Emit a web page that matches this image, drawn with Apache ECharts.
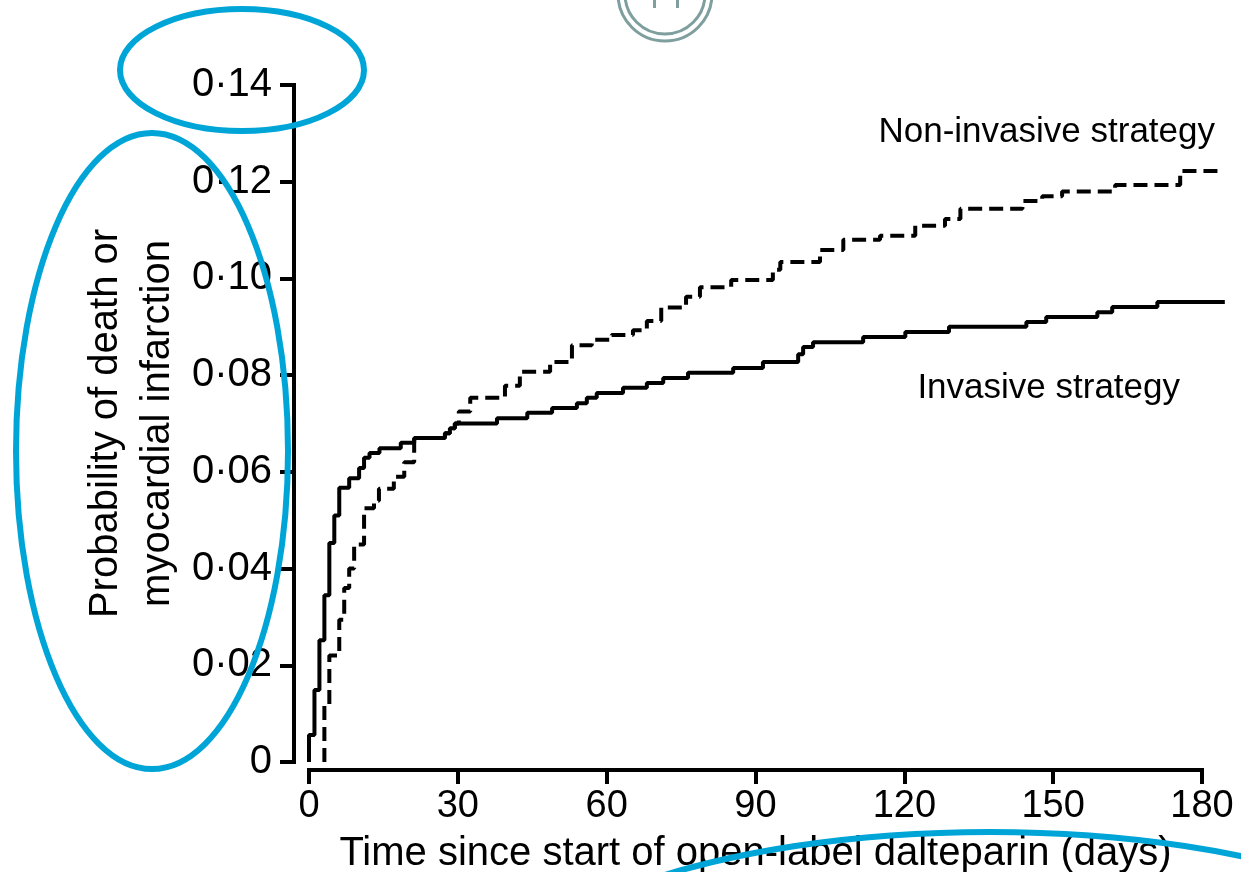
<!DOCTYPE html>
<html>
<head>
<meta charset="utf-8">
<title>Death or myocardial infarction</title>
<script src="https://cdn.jsdelivr.net/npm/echarts@6/dist/echarts.min.js"></script>
<style>
  html, body { margin: 0; padding: 0; background: #fff; }
  #chart { width: 1241px; height: 872px; }
</style>
</head>
<body>
<div id="chart"></div>
<script>
  // axis ticks
  var xTickLabels = ['0', '30', '60', '90', '120', '150', '180']
  var yTickLabels = ['0', '0·02', '0·04', '0·06', '0·08', '0·10', '0·12', '0·14']

  // invasive strategy (solid), step points: day of event, cumulative probability
  var invasiveDays = [0, 0, 1.1, 2.1, 3.1, 4.1, 5.1, 6.1, 8.1, 10.1, 11.1, 12.2, 14.2, 18.5, 21.2, 27.4, 28.4, 29.4,
    37.9, 44.0, 49.0, 54.0, 56.0, 58.0, 63.3, 68.1, 71.4, 76.4, 85.5, 91.5, 98.6, 99.6, 101.6, 111.7, 120.2, 129.0,
    144.6, 148.6, 158.9, 161.9, 171.0, 184.6]
  var invasiveProb = [0, 0.0056, 0.0149, 0.0252, 0.0345, 0.0453, 0.051, 0.0567, 0.0587, 0.0608, 0.0629, 0.0639, 0.0649,
    0.066, 0.067, 0.068, 0.069, 0.070, 0.0711, 0.0722, 0.0732, 0.0742, 0.0753, 0.0763, 0.0774, 0.0784, 0.0794, 0.0805,
    0.0815, 0.0827, 0.0843, 0.0858, 0.0868, 0.0879, 0.0889, 0.090, 0.091, 0.092, 0.093, 0.0941, 0.0951, 0.0951]

  // non-invasive strategy (dashed)
  var nonInvasiveDays = [3.1, 3.1, 4.1, 6.1, 7.1, 8.1, 9.1, 11.1, 13.1, 14.1, 17.1, 19.2, 21.2, 27.4, 28.4, 29.4, 30.2,
    32.5, 39.5, 42.5, 48.6, 53.0, 57.0, 61.0, 65.3, 68.1, 71.0, 76.0, 78.8, 85.1, 93.5, 95.0, 103.0, 107.7, 115.1,
    122.2, 128.2, 131.3, 143.8, 147.8, 151.8, 162.5, 175.6, 183.7]
  var nonInvasiveProb = [0, 0.012, 0.022, 0.0294, 0.036, 0.040, 0.045, 0.0525, 0.054, 0.0565, 0.059, 0.062, 0.067,
    0.068, 0.069, 0.070, 0.0725, 0.0753, 0.0778, 0.0807, 0.0827, 0.0862, 0.0873, 0.0883, 0.0893, 0.0912, 0.094, 0.0962,
    0.0982, 0.0997, 0.1018, 0.1034, 0.1059, 0.108, 0.1088, 0.1109, 0.1123, 0.1144, 0.116, 0.117, 0.118, 0.1193, 0.1222,
    0.1222]

  function pairs (xs, ys) {
    return xs.map(function (x, i) { return [x, ys[i]] })
  }

  var font = 'Liberation Sans'
  var blue = '#00a5d8'

  // the curves run a little past the 180-day end of the drawn axis:
  // a second, hidden grid with the same scale carries them
  var gridLeft = 309
  var axisRight = 39
  var curveRight = 16
  var plotW = 1241 - gridLeft - axisRight
  var curveMax = 180 * (1241 - gridLeft - curveRight) / plotW

  var option = {
    backgroundColor: '#fff',
    animation: false,
    grid: [
      { left: gridLeft, right: axisRight, top: 85, bottom: 110, containLabel: false, outerBoundsMode: 'none' },
      { left: gridLeft, right: curveRight, top: 85, bottom: 110, containLabel: false, outerBoundsMode: 'none' }
    ],
    xAxis: [{
      type: 'value',
      gridIndex: 0,
      min: 0,
      max: 180,
      interval: 30,
      offset: 8,
      name: 'Time since start of open-label dalteparin (days)',
      nameLocation: 'middle',
      nameGap: 64,
      nameMoveOverlap: false,
      nameTextStyle: { color: '#000', fontFamily: font, fontSize: 40 },
      axisLine: { show: true, onZero: false, lineStyle: { color: '#000', width: 4, cap: 'square' } },
      axisTick: { show: true, length: 14, lineStyle: { color: '#000', width: 4 } },
      axisLabel: {
        color: '#000', fontFamily: font, fontSize: 38, margin: 18,
        formatter: function (v) { return xTickLabels[Math.round(v / 30)] }
      },
      splitLine: { show: false }
    }, {
      type: 'value',
      gridIndex: 1,
      min: 0,
      max: curveMax,
      show: false
    }],
    yAxis: [{
      type: 'value',
      gridIndex: 0,
      min: 0,
      max: 0.14,
      interval: 0.02,
      offset: 15,
      name: 'Probability of death or\nmyocardial infarction',
      nameLocation: 'middle',
      nameRotate: 90,
      nameGap: 110,
      nameMoveOverlap: false,
      nameTextStyle: { color: '#000', fontFamily: font, fontSize: 40, lineHeight: 52 },
      axisLine: { show: true, onZero: false, lineStyle: { color: '#000', width: 4, cap: 'square' } },
      axisTick: { show: true, length: 14, lineStyle: { color: '#000', width: 4 } },
      axisLabel: {
        color: '#000', fontFamily: font, fontSize: 40, margin: 22,
        formatter: function (v) { return yTickLabels[Math.round(v / 0.02)] }
      },
      splitLine: { show: false }
    }, {
      type: 'value',
      gridIndex: 1,
      min: 0,
      max: 0.14,
      show: false
    }],
    series: [
      {
        name: 'Non-invasive strategy',
        type: 'line',
        xAxisIndex: 1,
        yAxisIndex: 1,
        step: 'end',
        symbol: 'none',
        z: 2,
        lineStyle: { color: '#000', width: 4, type: [14, 7] },
        data: pairs(nonInvasiveDays, nonInvasiveProb)
      },
      {
        name: 'Invasive strategy',
        type: 'line',
        xAxisIndex: 1,
        yAxisIndex: 1,
        step: 'end',
        symbol: 'none',
        z: 3,
        lineStyle: { color: '#000', width: 4 },
        data: pairs(invasiveDays, invasiveProb)
      }
    ],
    graphic: [
      // curve labels
      {
        type: 'text', x: 1215, y: 132, z: 50,
        style: { text: 'Non-invasive strategy', fill: '#000', font: '35px "Liberation Sans"', align: 'right', verticalAlign: 'middle' }
      },
      {
        type: 'text', x: 1180, y: 388, z: 50,
        style: { text: 'Invasive strategy', fill: '#000', font: '35px "Liberation Sans"', align: 'right', verticalAlign: 'middle' }
      },
      // page badge cut off at the top
      {
        type: 'circle', z: 40, shape: { cx: 665, cy: -6, r: 47 },
        style: { fill: 'none', stroke: '#7f9e9e', lineWidth: 3 }
      },
      {
        type: 'circle', z: 40, shape: { cx: 665, cy: -6, r: 40 },
        style: { fill: 'none', stroke: '#7f9e9e', lineWidth: 3 }
      },
      {
        type: 'line', z: 40, shape: { x1: 654.5, y1: 0, x2: 654.5, y2: 8 },
        style: { stroke: '#7f9e9e', lineWidth: 3 }
      },
      {
        type: 'line', z: 40, shape: { x1: 677.5, y1: 0, x2: 677.5, y2: 8 },
        style: { stroke: '#7f9e9e', lineWidth: 3 }
      },
      // blue highlight rings
      {
        type: 'ellipse', z: 100, shape: { cx: 242, cy: 70, rx: 122, ry: 61 },
        style: { fill: 'none', stroke: blue, lineWidth: 6 }
      },
      {
        type: 'ellipse', z: 100, shape: { cx: 152, cy: 451, rx: 136, ry: 318 },
        style: { fill: 'none', stroke: blue, lineWidth: 6 }
      },
      {
        type: 'ellipse', z: 100, shape: { cx: 990, cy: 1011, rx: 500, ry: 179 },
        style: { fill: 'none', stroke: blue, lineWidth: 6 }
      }
    ]
  }

  var chart = echarts.init(document.getElementById('chart'))
  chart.setOption(option)
  window.addEventListener('resize', function () {
    chart.resize()
  })
</script>
</body>
</html>
